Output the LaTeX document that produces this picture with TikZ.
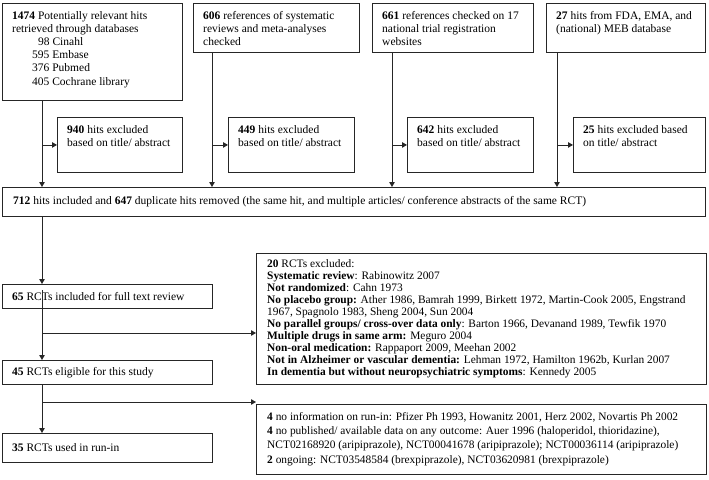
\documentclass[tikz,border=0pt]{standalone}
\usepackage{fontspec}
\setmainfont{Liberation Serif}
\usetikzlibrary{arrows.meta,calc}
\tikzset{
  frame/.style={draw=black!85, line width=0.9pt, inner sep=0pt, anchor=north west},
  txt/.style={anchor=north west, inner sep=0pt, align=left, font=\fontsize{11.5}{13.2}\selectfont},
  listtxt/.style={anchor=north west, inner sep=0pt, align=left, font=\fontsize{11.4}{12}\selectfont},
  runtxt/.style={anchor=north west, inner sep=0pt, align=left, font=\fontsize{11.4}{14.3}\selectfont},
  conn/.style={draw=black!85, line width=0.9pt},
  arr/.style={conn, -{Triangle[width=5.5pt,length=5pt]}}
}
\newcommand{\mybox}[5]{\node[frame, minimum width=#4-#2, minimum height=#5-#3] (#1) at (#2,#3) {};}
\begin{document}
\begin{tikzpicture}[x=1pt,y=-1pt]
\useasboundingbox (0,0) rectangle (709,479);
% top boxes
\mybox{b1}{2}{3}{182}{100}
\mybox{b2}{193}{3}{359}{52}
\mybox{b3}{372}{3}{533}{52}
\mybox{b4}{546}{3}{705}{52}
% excluded boxes
\mybox{e1}{57}{117}{182}{172}
\mybox{e2}{228}{117}{354}{172}
\mybox{e3}{407}{117}{533}{172}
\mybox{e4}{573}{117}{705}{172}
% lower boxes
\mybox{m}{2}{187}{705}{216}
\mybox{f}{2}{284}{212}{308}
\mybox{x}{256}{253}{706}{384}
\mybox{g}{2}{360}{212}{384}
\mybox{y}{256}{404}{706}{474}
\mybox{r}{2}{433}{212}{462}
% texts
\node[txt] (t1) at ($(b1.north west)+(10,8)$) {\textbf{1474} Potentially relevant hits\\retrieved through databases\\\hspace*{26pt}98 Cinahl\\\hspace*{20pt}595 Embase\\\hspace*{20pt}376 Pubmed\\\hspace*{20pt}405 Cochrane library};
\node[txt] (t2) at ($(b2.north west)+(10,8)$) {\textbf{606} references of systematic\\reviews and meta-analyses\\checked};
\node[txt] (t3) at ($(b3.north west)+(10,8)$) {\textbf{661} references checked on 17\\national trial registration\\websites};
\node[txt] (t4) at ($(b4.north west)+(10,8)$) {\textbf{27} hits from FDA, EMA, and\\(national) MEB database};
\node[txt] (te1) at ($(e1.north west)+(10,8)$) {\textbf{940} hits excluded\\based on title/ abstract};
\node[txt] (te2) at ($(e2.north west)+(10,8)$) {\textbf{449} hits excluded\\based on title/ abstract};
\node[txt] (te3) at ($(e3.north west)+(10,8)$) {\textbf{642} hits excluded\\based on title/ abstract};
\node[txt] (te4) at ($(e4.north west)+(10,8)$) {\textbf{25} hits excluded based\\on title/ abstract};
\node[txt, anchor=west] (tm) at ($(m.west)+(11,0)$) {\textbf{712} hits included and \textbf{647} duplicate hits removed (the same hit, and multiple articles/ conference abstracts of the same RCT)};
\node[txt, anchor=west] (tf) at ($(f.west)+(10,0)$) {\textbf{65} RCTs included for full text review};
\node[txt, anchor=west] (tg) at ($(g.west)+(10,0)$) {\textbf{45} RCTs eligible for this study};
\node[txt, anchor=west] (tr) at ($(r.west)+(10,0)$) {\textbf{35} RCTs used in run-in};
\node[listtxt] (tx) at ($(x.north west)+(11,6)$) {\textbf{20} RCTs excluded:\\
\textbf{Systematic review}: Rabinowitz 2007\\
\textbf{Not randomized}: Cahn 1973\\
\textbf{No placebo group:} Ather 1986, Bamrah 1999, Birkett 1972, Martin-Cook 2005, Engstrand\\
1967, Spagnolo 1983, Sheng 2004, Sun 2004\\
\textbf{No parallel groups/ cross-over data only}: Barton 1966, Devanand 1989, Tewfik 1970\\
\textbf{Multiple drugs in same arm:} Meguro 2004\\
\textbf{Non-oral medication:} Rappaport 2009, Meehan 2002\\
\textbf{Not in Alzheimer or vascular dementia:} Lehman 1972, Hamilton 1962b, Kurlan 2007\\
\textbf{In dementia but without neuropsychiatric symptoms}: Kennedy 2005};
\node[runtxt] (ty) at ($(y.north west)+(11,8)$) {\textbf{4} no information on run-in: Pfizer Ph 1993, Howanitz 2001, Herz 2002, Novartis Ph 2002\\
\textbf{4} no published/ available data on any outcome: Auer 1996 (haloperidol, thioridazine),\\
NCT02168920 (aripiprazole), NCT00041678 (aripiprazole); NCT00036114 (aripiprazole)\\
\textbf{2} ongoing: NCT03548584 (brexpiprazole), NCT03620981 (brexpiprazole)};
% connectors
\coordinate (s1) at (42,100);
\coordinate (s2) at (212,52);
\coordinate (s3) at (392,52);
\coordinate (s4) at (557,52);
\draw[arr] (s1) -- (s1 |- m.north);
\draw[arr] (s2) -- (s2 |- m.north);
\draw[arr] (s3) -- (s3 |- m.north);
\draw[arr] (s4) -- (s4 |- m.north);
\draw[arr] (s1 |- e1.west) -- (e1.west);
\draw[arr] (s2 |- e2.west) -- (e2.west);
\draw[arr] (s3 |- e3.west) -- (e3.west);
\draw[arr] (s4 |- e4.west) -- (e4.west);
\draw[arr] (s1 |- m.south) -- (s1 |- f.north);
\coordinate (fs) at (42,290);
\draw[arr] (fs) -- (s1 |- g.north);
\draw[arr] (s1 |- g.south) -- (s1 |- r.north);
\coordinate (j1) at (42,333);
\coordinate (j2) at (42,402);
\draw[arr] (j1) -- (j1 -| x.west);
\draw[arr] (j2) -- (j2 -| y.west);
\end{tikzpicture}
\end{document}
